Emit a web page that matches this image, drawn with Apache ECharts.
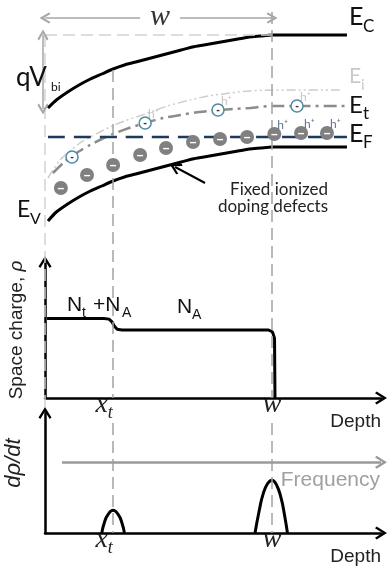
<!DOCTYPE html>
<html><head><meta charset="utf-8">
<script src="https://cdn.jsdelivr.net/npm/echarts@6/dist/echarts.min.js"></script>
<style>html,body{margin:0;padding:0;background:#fff}#c{width:391px;height:571px}</style>
</head><body><div id="c"></div>
<script>
// ---- data (depth in arbitrary units: x_t = 3, w = 10; energy in eV relative to bulk E_V) ----
const xt = 3.0;
const w = 10.0;
const bandDepth = [0.13, 0.5, 1.0, 1.5, 2.0, 2.5, 3.0, 3.5, 4.0, 4.5, 5.0, 5.5, 6.0, 6.5, 7.0, 7.5, 8.0, 8.5, 9.0, 9.5, 10.0, 13.3];
const Ec = [0.39, 0.47, 0.55, 0.62, 0.68, 0.73, 0.78, 0.82, 0.85, 0.88, 0.91, 0.94, 0.97, 1.00, 1.02, 1.04, 1.06, 1.08, 1.10, 1.11, 1.12, 1.12];
const Ev = [-0.74, -0.65, -0.57, -0.50, -0.44, -0.39, -0.34, -0.30, -0.27, -0.24, -0.21, -0.18, -0.15, -0.12, -0.10, -0.08, -0.06, -0.04, -0.02, -0.01, 0.0, 0.0];
const EiDepth = [0.13, 0.66, 1.0, 1.54, 2.0, 2.86, 3.5, 4.41, 5.4, 6.39, 7.2, 8.15, 9.0, 10.0, 13.1];
const Ei = [-0.31, -0.13, -0.06, 0.04, 0.10, 0.20, 0.26, 0.33, 0.41, 0.47, 0.51, 0.54, 0.56, 0.57, 0.57];
const EtDepth = [0.35, 0.8, 1.19, 1.6, 1.98, 2.5, 3.0, 3.7, 4.41, 5.2, 5.95, 6.8, 7.62, 8.3, 9.03, 10.0, 13.3];
const Et = [-0.26, -0.16, -0.09, -0.03, 0.02, 0.08, 0.13, 0.19, 0.24, 0.29, 0.32, 0.35, 0.37, 0.38, 0.39, 0.41, 0.41];
const EfDepth = [0.13, 13.3];
const Ef = [0.10, 0.10];
const dopDepth = [0.70, 1.85, 3.0, 4.19, 5.33, 6.52, 7.71, 8.90, 10.1, 11.28, 12.42];
const dopE = [-0.41, -0.28, -0.18, -0.08, -0.01, 0.05, 0.08, 0.10, 0.13, 0.14, 0.14];
const dopHole = [0, 0, 0, 0, 0, 0, 0, 0, 1, 1, 1];
const trapDepth = [1.19, 4.41, 7.62, 11.1];
const trapE = [-0.10, 0.24, 0.37, 0.41];
const trapHole = [0, 1, 1, 1];
const rhoDepth = [0.09, 2.6, 2.82, 2.95, 3.05, 3.18, 3.4, 9.85, 10.02, 10.11, 10.13];
const rho = [1.17, 1.17, 1.16, 1.12, 1.06, 1.01, 1.0, 1.0, 0.97, 0.88, 0];
const pkXtDepth = [2.5, 2.62, 2.78, 3.0, 3.22, 3.38, 3.5];
const pkXt = [0, 0.9, 1.55, 1.9, 1.55, 0.9, 0];
const pkWDepth = [9.25, 9.45, 9.6, 9.8, 10.0, 10.2, 10.4, 10.55, 10.68];
const pkW = [0, 2.0, 3.2, 4.1, 4.4, 4.0, 2.9, 1.5, 0];
const tickValues = [xt, w];

// ---- layout ----
const L = 45, W = 336, XMAX = 14.8, K = W / XMAX;
const SANS = '"Liberation Sans", Arial, sans-serif';
const LATO = 'Lato, sans-serif';
const SERIF = '"Liberation Serif", "Times New Roman", serif';
const chev = 'path://M6.5,0 L13,10.4 L11.2,12 L6.5,4.4 L1.8,12 L0,10.4 Z';
const zip = (a, b) => a.map((v, i) => [v, b[i]]);

const chart = echarts.init(document.getElementById('c'));

function T(x, y, text, size, o) {
  o = o || {};
  return {
    type: 'text', x: x, y: y, z: 100, rotation: o.rot || 0,
    style: {
      text: text, fill: o.color || '#111',
      font: (o.italic ? 'italic ' : 'normal ') + 'normal ' + size + 'px ' + (o.family || LATO),
      align: o.align || 'left', verticalAlign: o.va || 'middle',
      textAlign: o.align || 'left', textVerticalAlign: o.va || 'middle'
    }
  };
}

const depthAxis = (gi) => ({
  gridIndex: gi, type: 'value', min: 0, max: XMAX,
  splitLine: { show: false }, axisTick: { show: false },
  axisLine: { show: true, onZero: false, lineStyle: { color: '#000', width: 2.5 }, symbol: ['none', chev], symbolSize: [13, 12] },
  axisLabel: {
    show: true, customValues: tickValues, margin: 0,
    formatter: (v) => v === xt ? '{x|x}{t|t}{s|}' : '{x|w}',
    rich: {
      x: { fontFamily: SERIF, fontStyle: 'italic', fontSize: 28, lineHeight: 14, color: '#222' },
      t: { fontFamily: SERIF, fontStyle: 'italic', fontSize: 18, lineHeight: 10, padding: [16, 0, 0, 0], color: '#222' },
      s: { width: 18 }
    }
  },
  name: 'Depth', nameLocation: 'end', nameGap: 0,
  nameTextStyle: { fontFamily: SANS, fontSize: 19, color: '#222', align: 'right', verticalAlign: 'top', padding: [14, 0, 0, 0] }
});

const valAxis = (gi, max, name, size, gap, pad) => ({
  gridIndex: gi, type: 'value', min: 0, max: max,
  splitLine: { show: false }, axisTick: { show: false }, axisLabel: { show: false },
  axisLine: { show: true, onZero: false, lineStyle: { color: '#000', width: 2.5 }, symbol: ['none', chev], symbolSize: [13, 12] },
  name: name, nameLocation: 'middle', nameRotate: 90, nameGap: gap,
  nameTextStyle: {
    fontFamily: SANS, fontSize: size, color: '#222', padding: pad,
    rich: { n: { fontFamily: SANS, fontSize: size, color: '#222' }, i: { fontFamily: SANS, fontStyle: 'italic', fontSize: size, color: '#222' } }
  }
});

const guide = (x1, y1, x2, y2, color) => [{ coord: [x1, y1], lineStyle: { color: color } }, { coord: [x2, y2] }];
const LG = '#d2d2d2', MG = '#a3a3a3';
const curve = (name, xs, ys, style, z) => ({
  name: name, type: 'line', xAxisIndex: 0, yAxisIndex: 0, data: zip(xs, ys),
  smooth: 0.25, showSymbol: false, z: z, lineStyle: style
});
const G = (o) => Object.assign({ containLabel: false, outerBoundsMode: 'none' }, o);

const option = {
  animation: false,
  backgroundColor: '#fff',
  grid: [
    G({ left: L - K * 0.5, width: W + K * 0.5, top: 7, height: 240 }),
    G({ left: L, width: W, top: 262, height: 136 }),
    G({ left: L, width: W, top: 413, height: 120 }),
    G({ left: L, width: W, top: 0, height: 571 })
  ],
  xAxis: [
    { gridIndex: 0, type: 'value', min: -0.5, max: XMAX, show: false },
    depthAxis(1), depthAxis(2),
    { gridIndex: 3, type: 'value', min: 0, max: XMAX, show: false }
  ],
  yAxis: [
    { gridIndex: 0, type: 'value', min: -1.0, max: 1.4, show: false },
    valAxis(1, 2, '{n|Space charge, }{i|ρ}', 19, 19, [0, 0, 0, 0]),
    valAxis(2, 10, '{i|dρ/dt}', 22, 20, [0, 0, 0, 20]),
    { gridIndex: 3, type: 'value', min: 0, max: 571, inverse: true, show: false }
  ],
  series: [
    { // guide lines (page overlay)
      type: 'line', xAxisIndex: 3, yAxisIndex: 3, data: [], z: 1,
      markLine: {
        silent: true, symbol: ['none', 'none'], label: { show: false },
        lineStyle: { type: [12, 6], width: 1.5, color: MG },
        data: [
          guide(0, 35, 0, 413, LG),
          guide(0, 35, w, 35, LG),
          guide(xt, 70, xt, 398, MG),
          guide(xt, 423, xt, 533, MG),
          guide(w, 12, w, 398, MG),
          guide(w, 423, w, 533, MG)
        ]
      }
    },
    curve('Ei', EiDepth, Ei, { color: '#cdcdcd', width: 1.5, type: [9, 3, 2, 3, 2, 3] }, 3),
    curve('Et', EtDepth, Et, { color: '#8c8c8c', width: 2.5, type: [13, 5, 3, 5] }, 3),
    curve('EF', EfDepth, Ef, { color: '#1f3b5c', width: 2.5, type: [17, 9] }, 3),
    curve('EC', bandDepth, Ec, { color: '#000', width: 3 }, 4),
    curve('EV', bandDepth, Ev, { color: '#000', width: 3 }, 4),
    { name: 'dopants', type: 'scatter', xAxisIndex: 0, yAxisIndex: 0, data: zip(dopDepth, dopE), symbolSize: 14, z: 6,
      itemStyle: { color: '#808080', opacity: 1 },
      label: { show: true, position: 'inside', formatter: '\u2013', color: '#fff', fontWeight: 'bold', fontSize: 12, fontFamily: SANS, offset: [0, 1] } },
    { name: 'traps', type: 'scatter', xAxisIndex: 0, yAxisIndex: 0, data: zip(trapDepth, trapE), symbolSize: 12, z: 6,
      itemStyle: { color: '#fff', borderColor: '#4e8ba3', borderWidth: 1.5, opacity: 1 },
      label: { show: true, position: 'inside', formatter: '-', color: '#333', fontWeight: 'bold', fontSize: 11, fontFamily: SANS } },
    { name: 'holesD', type: 'scatter', xAxisIndex: 0, yAxisIndex: 0, data: zip(dopDepth, dopE).filter((p, i) => dopHole[i]), symbolSize: 0, z: 7,
      label: { show: true, position: 'right', distance: 0, offset: [3, -9], formatter: 'h\u207A', color: '#34506e', fontSize: 12, fontFamily: LATO } },
    { name: 'holesT', type: 'scatter', xAxisIndex: 0, yAxisIndex: 0, data: zip(trapDepth, trapE).filter((p, i) => trapHole[i]), symbolSize: 0, z: 7,
      label: { show: true, position: 'right', distance: 0, offset: [3, -9], formatter: 'h\u207A', color: '#b5b5b5', fontSize: 12, fontFamily: LATO } },
    { // annotations in band diagram: arrows
      type: 'line', xAxisIndex: 0, yAxisIndex: 0, data: [], z: 5,
      markLine: {
        silent: true, label: { show: false }, symbolSize: [11, 11],
        data: [
          [{ coord: [-0.09, 1.12], symbol: chev, lineStyle: { color: '#a6a6a6', width: 1.5, type: 'solid' } }, { coord: [-0.09, 0.38], symbol: chev }],
          [{ coord: [0, 1.29], symbol: chev, lineStyle: { color: '#a6a6a6', width: 1.5, type: 'solid' } }, { coord: [4.19, 1.29], symbol: 'none' }],
          [{ coord: [5.95, 1.29], symbol: 'none', lineStyle: { color: '#a6a6a6', width: 1.5, type: 'solid' } }, { coord: [w, 1.29], symbol: chev }],
          [{ coord: [7.05, -0.36], symbol: 'none', lineStyle: { color: '#000', width: 2, type: 'solid' } }, { coord: [5.73, -0.20], symbol: chev, symbolSize: 12 }]
        ]
      }
    },
    { name: 'rho', type: 'line', xAxisIndex: 1, yAxisIndex: 1, data: zip(rhoDepth, rho), showSymbol: false, z: 4,
      lineStyle: { color: '#000', width: 3 } },
    { name: 'pkXt', type: 'line', xAxisIndex: 2, yAxisIndex: 2, data: zip(pkXtDepth, pkXt), smooth: 0.5, showSymbol: false, z: 4,
      lineStyle: { color: '#000', width: 3 } },
    { name: 'pkW', type: 'line', xAxisIndex: 2, yAxisIndex: 2, data: zip(pkWDepth, pkW), smooth: 0.5, showSymbol: false, z: 4,
      lineStyle: { color: '#000', width: 3 },
      markLine: {
        silent: true, symbol: ['none', chev], symbolSize: [13, 12], label: { show: false },
        lineStyle: { color: '#9a9a9a', width: 2.5, type: 'solid' },
        data: [[{ coord: [0.75, 5.9] }, { coord: [XMAX, 5.9] }]]
      } }
  ],
  graphic: [
    T(349, 17, 'E', 25), T(363, 27, 'C', 17),
    T(349, 76, 'E', 21, { color: '#cacaca' }), T(361, 85, 'i', 15, { color: '#cacaca' }),
    T(349, 105, 'E', 24), T(363, 114, 't', 17),
    T(349, 134, 'E', 25), T(363, 143, 'F', 17),
    T(17, 210, 'E', 23), T(30, 219, 'V', 16),
    T(16, 78, 'qV', 26), T(51, 87, 'bi', 12),
    T(160, 17, 'w', 30, { family: SERIF, italic: true, color: '#333', align: 'center' }),
    T(328, 190, 'Fixed ionized', 17, { align: 'right', color: '#222' }),
    T(328, 207, 'doping defects', 17, { align: 'right', color: '#222' }),
    T(67, 305, 'N', 21, { family: SANS }), T(82, 313, 't', 14, { family: SANS }),
    T(93, 305, '+N', 21, { family: SANS }), T(122, 313, 'A', 14, { family: SANS }),
    T(177, 307, 'N', 21, { family: SANS }), T(192, 315, 'A', 14, { family: SANS }),
    T(380, 480, 'Frequency', 21, { family: SANS, color: '#a0a0a0', align: 'right' })
  ]
};
chart.setOption(option);
</script>
</body></html>
